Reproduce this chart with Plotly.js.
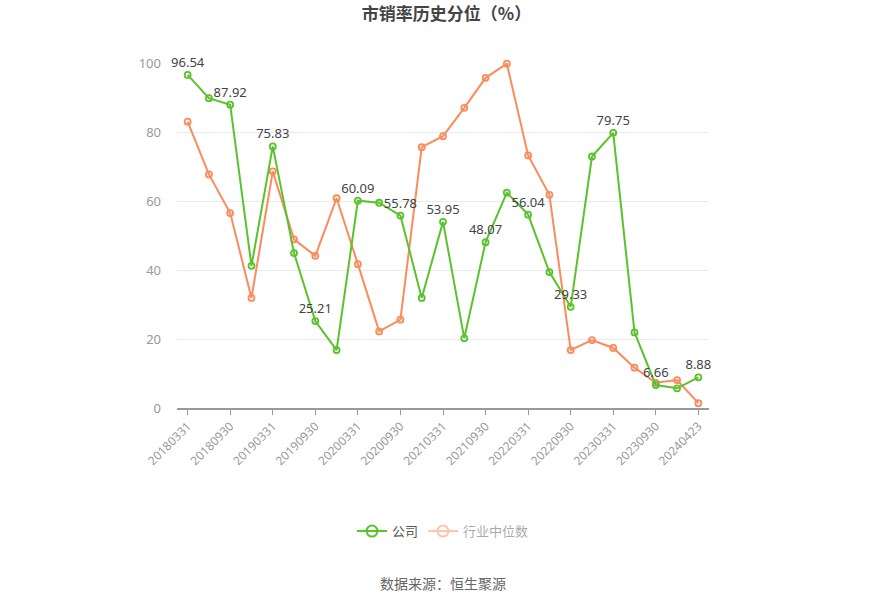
<!DOCTYPE html>
<html><head><meta charset="utf-8">
<script src="https://cdn.plot.ly/plotly-3.0.1.min.js"></script>
<style>html,body{margin:0;padding:0;background:#fff;}#chart{width:893px;height:603px;}</style>
</head><body><div id="chart"></div>
<script>
const categories = ["20180331","20180630","20180930","20181231","20190331","20190630","20190930","20191231","20200331","20200630","20200930","20201231","20210331","20210630","20210930","20211231","20220331","20220630","20220930","20221231","20230331","20230630","20230930","20231231","20240423"];
const companyValues = [96.54,89.8,87.92,41.2,75.83,44.9,25.21,16.8,60.09,59.5,55.78,31.9,53.95,20.2,48.07,62.4,56.04,39.4,29.33,72.9,79.75,21.9,6.66,5.7,8.88];
const industryValues = [83.0,67.7,56.5,31.9,68.6,48.9,44.1,60.8,41.7,22.2,25.6,75.6,78.8,87.0,95.7,99.8,73.2,61.8,16.8,19.7,17.4,11.7,7.3,8.1,1.4];
const tickLabels = ["20180331","20180930","20190331","20190930","20200331","20200930","20210331","20210930","20220331","20220930","20230331","20230930","20240423"];
const labelFlags = categories.map(c => tickLabels.includes(c));
const companyText = companyValues.map((v,i) => labelFlags[i] ? v.toFixed(2) : "");

const green = "#5ac22c";
const orange = "#fb8b5b";

const traces = [
  {x: categories, y: industryValues, type: "scatter", mode: "lines+markers", name: "行业中位数", showlegend: false,
   line: {color: orange, width: 2}, marker: {symbol: "circle-open", size: 6, color: orange, line: {width: 1.8}}, cliponaxis: false},
  {x: categories, y: companyValues, type: "scatter", mode: "lines+markers+text", name: "公司", showlegend: false,
   text: companyText, textposition: "top center", textfont: {size: 13, color: "#444", family: "Noto Sans, sans-serif"},
   line: {color: green, width: 2}, marker: {symbol: "circle-open", size: 6, color: green, line: {width: 1.8}}, cliponaxis: false},
  {x: [categories[0]], y: [null], type: "scatter", mode: "lines+markers", name: "公司",
   line: {color: green, width: 2}, marker: {symbol: "circle-open", size: 11, color: green, line: {width: 2}}},
  {x: [categories[0]], y: [null], type: "scatter", mode: "lines+markers", name: "行业中位数", visible: "legendonly",
   line: {color: orange, width: 2}, marker: {symbol: "circle-open", size: 11, color: orange, line: {width: 2}}}
];

const layout = {
  width: 893, height: 603,
  margin: {l: 177, r: 184, t: 63, b: 195},
  paper_bgcolor: "#fff", plot_bgcolor: "#fff",
  font: {family: "Noto Sans, sans-serif", color: "#999"},
  title: {text: "<b>市销率历史分位（%）</b>", x: 0.5, xanchor: "center", y: 0.977, yanchor: "middle",
          font: {size: 17, color: "#444", family: "Noto Sans CJK SC, sans-serif"}},
  xaxis: {type: "category", range: [-0.5, 24.5], tickmode: "array", tickvals: tickLabels, ticktext: tickLabels,
          tickangle: -45, ticks: "outside", ticklen: 5, tickcolor: "#999", showline: true, linecolor: "#999", linewidth: 1.5,
          showgrid: false, tickfont: {size: 12, color: "#999"}, fixedrange: true},
  yaxis: {range: [0, 100], tickvals: [0,20,40,60,80,100], showgrid: true, gridcolor: "#e6eaf2", gridwidth: 1,
          zeroline: false, showline: false, ticks: "", tickfont: {size: 13, color: "#999"}, ticklabelstandoff: 15},
  legend: {orientation: "h", x: 0.5, xanchor: "center", y: -0.357, yanchor: "middle",
           font: {size: 13, color: "#555", family: "Noto Sans CJK SC, sans-serif"}, traceorder: "normal"},
  annotations: [{text: "数据来源：恒生聚源", xref: "paper", yref: "paper", x: 0.5, xanchor: "center",
                 y: -0.506, yanchor: "middle", showarrow: false, font: {size: 14, color: "#666", family: "Noto Sans CJK SC, sans-serif"}}],
  showlegend: true
};

Plotly.newPlot("chart", traces, layout, {displayModeBar: false, staticPlot: true});
</script></body></html>
